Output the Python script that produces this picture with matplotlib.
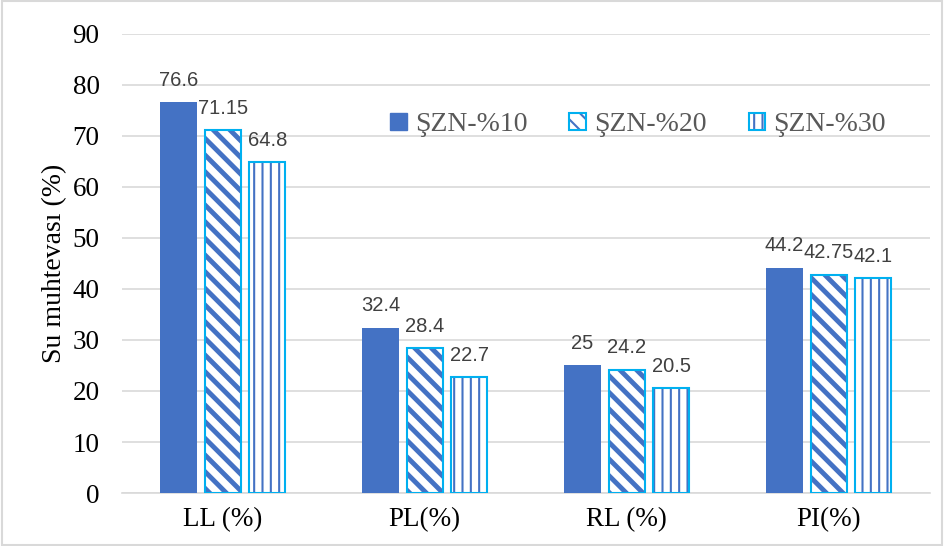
import numpy as np
import matplotlib.pyplot as plt
from matplotlib.patches import Rectangle, Patch

categories = ["LL (%)", "PL(%)", "RL (%)", "PI(%)"]
szn10 = [76.6, 32.4, 25, 44.2]
szn20 = [71.15, 28.4, 24.2, 42.75]
szn30 = [64.8, 22.7, 20.5, 42.1]
labels10 = ["76.6", "32.4", "25", "44.2"]
labels20 = ["71.15", "28.4", "24.2", "42.75"]
labels30 = ["64.8", "22.7", "20.5", "42.1"]
series_names = ["ŞZN-%10", "ŞZN-%20", "ŞZN-%30"]

BLUE = "#4472C4"
CYAN = "#00B0F0"

serif = "Liberation Serif"
sans = "Liberation Sans"

fig = plt.figure(figsize=(9.44, 5.46), dpi=100)
ax = fig.add_axes([0.129, 0.097, 0.856, 0.841])

x = np.arange(len(categories))
w = 0.18
step = 0.22


def hatched_bars(xpos, vals, hatch, hlw):
    # blue hatch on white, then a cyan outline drawn on top
    plt.rcParams["hatch.linewidth"] = hlw
    hb = ax.bar(xpos, vals, w, facecolor="white", edgecolor=BLUE, linewidth=0,
                hatch=hatch, zorder=3)
    for b in hb:
        if hasattr(b, "set_hatch_linewidth"):
            b.set_hatch_linewidth(hlw)
    ob = ax.bar(xpos, vals, w, fill=False, edgecolor=CYAN, linewidth=1.5, zorder=4)
    return ob


b1 = ax.bar(x - step, szn10, w, color=BLUE, zorder=3)
b2 = hatched_bars(x, szn20, "\\\\", 3.5)
b3 = hatched_bars(x + step, szn30, "||", 1.5)

for bars, labs in [(b1, labels10), (b2, labels20), (b3, labels30)]:
    ax.bar_label(bars, labels=labs, padding=9, fontsize=14.5, family=sans,
                 color="#404040")

ax.set_ylim(0, 90)
ax.set_xlim(-0.5, 3.5)
ax.set_yticks(np.arange(0, 91, 10))
ax.set_xticks(x)
ax.set_xticklabels(categories, fontsize=19.5, family=serif)
for t in ax.get_yticklabels():
    t.set_fontsize(19.5)
    t.set_family(serif)
ax.tick_params(axis="y", length=0, pad=16)
ax.tick_params(axis="x", length=0, pad=10)

ax.grid(axis="y", color="#D9D9D9", linewidth=1.2, zorder=0)
for s in ["left", "right", "top"]:
    ax.spines[s].set_visible(False)
ax.spines["bottom"].set_color("#D9D9D9")
ax.spines["bottom"].set_linewidth(1.2)

ax.set_ylabel("Su muhtevası (%)", fontsize=20, family=serif, labelpad=4)

# legend handles: solid, hatched and striped swatches
h1 = Patch(facecolor=BLUE, edgecolor=BLUE)
h2 = (Patch(facecolor="white", edgecolor=BLUE, linewidth=0, hatch="\\\\"),
      Patch(fill=False, edgecolor=CYAN, linewidth=1.5))
h3 = (Patch(facecolor="white", edgecolor=BLUE, linewidth=0, hatch="||"),
      Patch(fill=False, edgecolor=CYAN, linewidth=1.5))
leg = ax.legend([h1, h2, h3], series_names, loc="center",
                bbox_to_anchor=(0.639, 0.802), ncol=3, frameon=False,
                prop={"family": serif, "size": 20}, handlelength=0.6,
                handleheight=0.6, handletextpad=0.3, columnspacing=1.5)
for t in leg.get_texts():
    t.set_color("#595959")

fig.patches.append(Rectangle((0.002, 0.002), 0.996, 0.996, transform=fig.transFigure,
                             fill=False, edgecolor="#D9D9D9", linewidth=1.5))

fig.savefig("out.png", dpi=100)
